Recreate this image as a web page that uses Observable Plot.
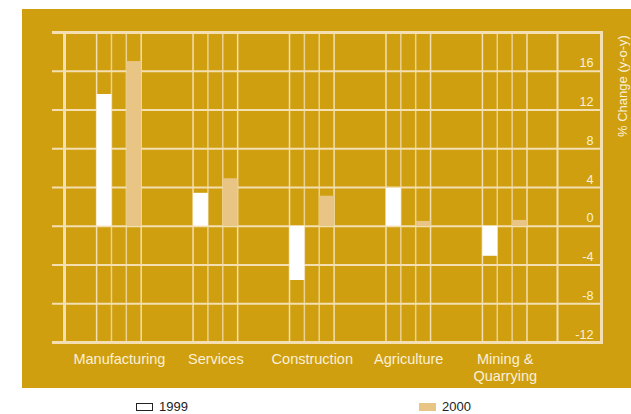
<!DOCTYPE html>
<html>
<head>
<meta charset="utf-8">
<script src="https://cdn.jsdelivr.net/npm/d3@7"></script>
<script src="https://cdn.jsdelivr.net/npm/@observablehq/plot@0.6"></script>
<style>
  html, body { margin: 0; padding: 0; background: #fff; width: 631px; height: 414px; overflow: hidden; }
  body { position: relative; font-family: "Liberation Sans", Arial, Helvetica, sans-serif; }
  #panel { position: absolute; left: 22px; top: 9px; width: 609px; height: 379px; background: #CF9F0F; }
  #panel svg { display: block; background: transparent; overflow: visible; }
  .leg { position: absolute; top: 399px; font-size: 13px; color: #222; line-height: 16px; display: flex; align-items: center; }
  .sw { display: inline-block; width: 17px; height: 8px; margin-right: 6px; box-sizing: border-box; }
</style>
</head>
<body>
<div id="panel"></div>
<div class="leg" style="left:136px"><span class="sw" style="border:1.5px solid #222;background:#fff"></span>1999</div>
<div class="leg" style="left:419px"><span class="sw" style="background:#E8C584"></span>2000</div>
<script>
const categories = ["Manufacturing", "Services", "Construction", "Agriculture", "Mining & Quarrying"];
const values1999 = [13.6, 3.4, -5.6, 3.9, -3.1];
const values2000 = [17.0, 4.9, 3.1, 0.5, 0.6];
const yTicks = [-12, -8, -4, 0, 4, 8, 12, 16];
const yDomain = [-12, 20];
const axisTitle = "% Change (y-o-y)";

const d1999 = categories.map((c, i) => ({category: c, value: values1999[i]}));
const d2000 = categories.map((c, i) => ({category: c, value: values2000[i]}));

const lineColor = "#F3DFB2";
const textColor = "#FAF0D8";
const bw = 44.6;
const third = bw / 3;

const plot = Plot.plot({
  width: 609,
  height: 379,
  marginTop: 23,
  marginBottom: 46,
  marginLeft: 30,
  marginRight: 30,
  style: {background: "transparent", fontFamily: "'Liberation Sans', Arial, Helvetica, sans-serif", overflow: "visible"},
  x: {type: "band", domain: categories, range: [74.6, 505], paddingInner: 0.5377, paddingOuter: 0, align: 0.5, round: false, label: null},
  y: {domain: yDomain, range: [333, 23], label: null, axis: null},
  marks: [
    // horizontal grid lines
    Plot.ruleY(yTicks.concat([yDomain[1]]), {stroke: lineColor, strokeWidth: 2}),
    Plot.ruleY([yDomain[0], yDomain[1]], {stroke: lineColor, strokeWidth: 3}),
    // vertical lines at bar edges
    Plot.barY(categories, {x: d => d, y1: yDomain[0], y2: yDomain[1], fill: "none", stroke: lineColor, strokeWidth: 1.5}),
    Plot.barY(categories, {x: d => d, y1: yDomain[0], y2: yDomain[1], insetLeft: third, insetRight: third, fill: "none", stroke: lineColor, strokeWidth: 1.5, strokeOpacity: 0.8}),
    // frame lines
    Plot.frame({insetLeft: 12, stroke: lineColor, strokeWidth: 3}),
    Plot.frame({insetLeft: 12, insetRight: 44, stroke: lineColor, strokeWidth: 2}),
    // bars
    Plot.barY(d1999, {x: "category", y: "value", fill: "#FFFFFF", insetRight: 2 * third}),
    Plot.barY(d2000, {x: "category", y: "value", fill: "#E8C584", insetLeft: 2 * third}),
    // tick labels on the right
    Plot.text(yTicks, {y: d => d, frameAnchor: "right", textAnchor: "end", dx: -8, dy: -8, fill: textColor, fontSize: 12.7}),
    // axis title
    Plot.text([axisTitle], {frameAnchor: "top-right", text: d => d, textAnchor: "middle", lineAnchor: "middle", dx: 21, dy: 53.5, rotate: -90, fill: textColor, fontSize: 13}),
    // category axis
    Plot.axisX({tickSize: 0, tickPadding: 9, fontSize: 14.5, fill: textColor, lineHeight: 1.2,
      tickFormat: d => d === "Mining & Quarrying" ? "Mining &\nQuarrying" : d, label: null})
  ]
});
document.getElementById("panel").appendChild(plot);
</script>
</body>
</html>
